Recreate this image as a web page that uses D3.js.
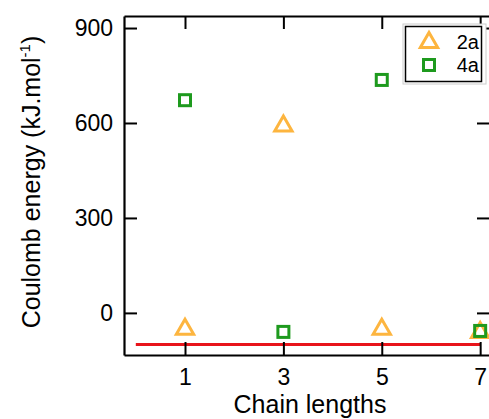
<!DOCTYPE html>
<html><head><meta charset="utf-8">
<script src="https://cdn.jsdelivr.net/npm/d3@7"></script>
<style>body{margin:0;background:#fff}svg{display:block}text{font-family:"Liberation Sans",Arial,Helvetica,sans-serif}</style>
</head><body>
<script>
const chainLengths = [1, 3, 5, 7];
const series2a = [-47, 595, -47, -57];
const series4a = [672, -60, 736, -57];
const refLineX = [0, 7];
const refLineY = -100;
const yTicks = [0, 300, 600, 900];
const xTicks = [1, 3, 5, 7];
const seriesNames = ["2a", "4a"];

const W = 489, H = 419;
const svg = d3.select("body").append("svg").attr("width", W).attr("height", H);
const L = 124, R = 490, T = 16, B = 355;
const x = d3.scaleLinear().domain([-0.24, 7.2]).range([L, R]);
const y = d3.scaleLinear().domain([-133, 938]).range([B, T]);

const orange = "#FDB53F", green = "#1E9A1E", red = "#E8141B";
const FS = 23;

svg.append("line").attr("x1", x(refLineX[0])).attr("x2", x(refLineX[1]))
  .attr("y1", y(refLineY)).attr("y2", y(refLineY))
  .attr("stroke", red).attr("stroke-width", 3);

function styleAxis(g) {
  g.select(".domain").attr("stroke", "#000").attr("stroke-width", 2.2);
  g.selectAll(".tick line").attr("stroke", "#000").attr("stroke-width", 2);
  g.selectAll(".tick text").attr("fill", "#000").style("font-size", FS + "px")
    .style("font-family", '"Liberation Sans",Arial,sans-serif');
}
const gl = svg.append("g").attr("transform", `translate(${L},0)`)
  .call(d3.axisLeft(y).tickValues(yTicks).tickSizeInner(-13).tickSizeOuter(0).tickPadding(11));
styleAxis(gl);
const gb = svg.append("g").attr("transform", `translate(0,${B})`)
  .call(d3.axisBottom(x).tickValues(xTicks).tickSizeInner(-13).tickSizeOuter(0).tickPadding(14));
styleAxis(gb);
const gt = svg.append("g").attr("transform", `translate(0,${T})`)
  .call(d3.axisTop(x).tickValues(xTicks).tickSizeInner(-13).tickSizeOuter(0).tickFormat(""));
styleAxis(gt);
const gr = svg.append("g").attr("transform", `translate(${R},0)`)
  .call(d3.axisRight(y).tickValues(yTicks).tickSizeInner(-13).tickSizeOuter(0).tickFormat(""));
styleAxis(gr);

const tri = d3.symbol().type(d3.symbolTriangle).size(130);
function drawTri(g, cx, cy) {
  g.append("path").attr("d", tri()).attr("transform", `translate(${cx},${cy + 1.5})`)
    .attr("fill", "none").attr("stroke", orange).attr("stroke-width", 3);
}
function drawSq(g, cx, cy) {
  g.append("rect").attr("x", cx - 5.5).attr("y", cy - 5.5).attr("width", 11).attr("height", 11)
    .attr("fill", "none").attr("stroke", green).attr("stroke-width", 3);
}
const pts = svg.append("g");
chainLengths.forEach((c, i) => drawTri(pts, x(c), y(series2a[i])));
chainLengths.forEach((c, i) => drawSq(pts, x(c), y(series4a[i])));

// legend
const lg = svg.append("g");
lg.append("rect").attr("x", 403).attr("y", 24).attr("width", 83).attr("height", 60)
  .attr("fill", "#fff").attr("stroke", "#ccc").attr("stroke-width", 1);
lg.append("rect").attr("x", 405.5).attr("y", 26.5).attr("width", 76).attr("height", 55)
  .attr("fill", "#fff").attr("stroke", "#000").attr("stroke-width", 1.5);
drawTri(lg, 429, 41);
drawSq(lg, 429, 65);
lg.selectAll("text.leg").data(seriesNames).enter().append("text")
  .attr("x", 479).attr("y", (d, i) => 49 + i * 23).attr("text-anchor", "end")
  .style("font-size", "20px").text(d => d);

svg.append("text").attr("x", 310).attr("y", 413).attr("text-anchor", "middle")
  .style("font-size", "25px").text("Chain lengths");
const yt = svg.append("text").attr("transform", "translate(40,182) rotate(-90)")
  .attr("text-anchor", "middle").style("font-size", "25px");
yt.append("tspan").text("Coulomb energy (kJ.mol");
yt.append("tspan").attr("dy", -10).style("font-size", "15px").text("-1");
yt.append("tspan").attr("dy", 10).text(")");
</script>
</body></html>
